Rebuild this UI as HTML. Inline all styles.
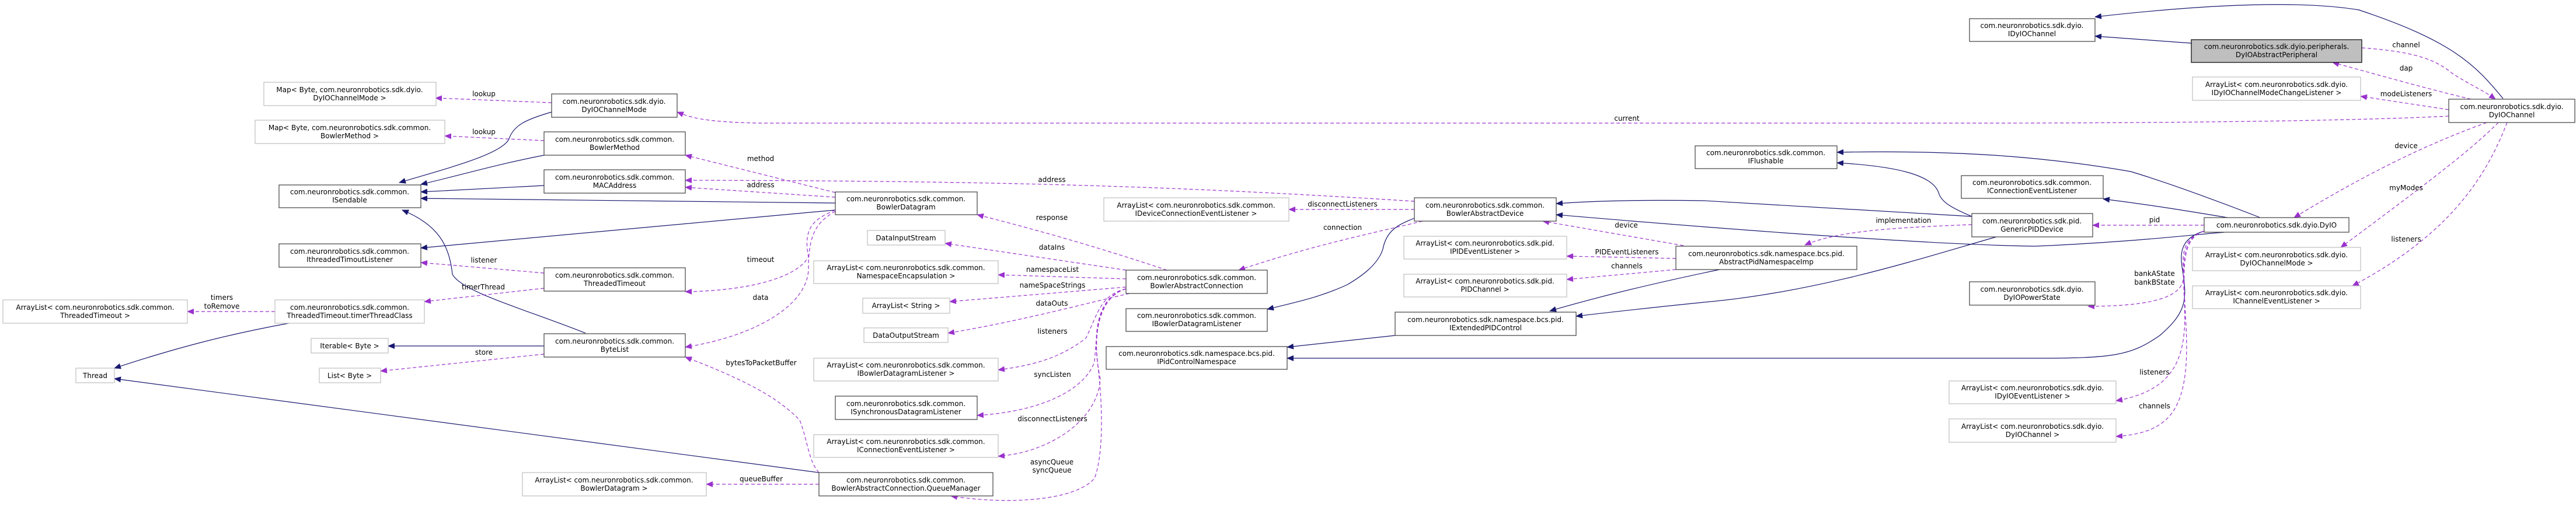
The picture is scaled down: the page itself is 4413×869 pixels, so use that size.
<!DOCTYPE html>
<html><head><meta charset="utf-8"><style>
html,body{margin:0;padding:0;background:#fff;}
svg{display:block;}
text{font-family:"DejaVu Sans","Liberation Sans",sans-serif;font-size:12px;fill:#000;text-anchor:middle;}
.lb{fill:#000;}
.s{fill:none;stroke:#191970;stroke-width:1.2;}
.d{fill:none;stroke:#9a32cd;stroke-width:1.2;stroke-dasharray:6,4;}
.bk{fill:#fff;stroke:#404040;stroke-width:1.2;}
.gr{fill:#fff;stroke:#bfbfbf;stroke-width:1.2;}
</style></head><body>
<svg width="4413" height="869" viewBox="0 0 4413 869" xmlns="http://www.w3.org/2000/svg">
<defs>
<marker id="a" markerWidth="12" markerHeight="10" refX="11" refY="5" orient="auto" markerUnits="userSpaceOnUse"><path d="M0,0 L12,5 L0,10 z" fill="#191970"/></marker>
<marker id="p" markerWidth="12" markerHeight="10" refX="11" refY="5" orient="auto" markerUnits="userSpaceOnUse"><path d="M0,0 L12,5 L0,10 z" fill="#9a32cd"/></marker>
</defs>

<!-- solid edges -->
<g class="s" marker-end="url(#a)">
<path d="M945,192 C900,205 880,215 872,238 C860,265 760,290 684,313"/>
<path d="M932,266 C850,282 790,300 721,316"/>
<path d="M932,318 L721,329"/>
<path d="M1431,348 L721,340"/>
<path d="M1003,571 C900,530 790,500 775,470 C770,420 750,385 689,360"/>
<path d="M1431,360 L721,425"/>
<path d="M495,554 C380,575 290,600 196,631"/>
<path d="M1403,810 L196,649"/>
<path d="M932,593 L665,593"/>
<path d="M2423,374 C2395,385 2375,395 2369,427 C2360,455 2330,475 2308,488 C2260,510 2220,518 2171,530"/>
<path d="M2390,575 L2205,595"/>
<path d="M3776,396 C3730,410 3735,440 3740,470 C3748,520 3740,540 3700,575 C3650,610 3620,614 3486,614 L2205,614"/>
<path d="M2946,462 C2850,482 2750,505 2655,533"/>
<path d="M3420,406 C3300,440 3120,500 2920,518 C2820,528 2760,535 2700,542"/>
<path d="M3378,371 C3340,355 3325,345 3321,330 C3310,300 3250,285 3147,279"/>
<path d="M3378,371 L2920,344 C2800,342 2720,345 2666,349"/>
<path d="M3811,398 C3750,403 3650,415 3486,422 C3350,420 3100,405 2666,368"/>
<path d="M3872,373 C3800,345 3720,315 3650,294 C3500,268 3350,257 3147,261"/>
<path d="M3816,373 C3750,362 3690,352 3603,341"/>
<path d="M4288,169 C4240,110 4200,70 4041,17 C3950,2 3800,5 3589,29"/>
<path d="M3754,74 L3589,62"/>
</g>

<!-- dashed edges -->
<g class="d" marker-end="url(#p)">
<path d="M945,176 L746,168"/>
<path d="M932,241 L762,233"/>
<path d="M4195,199 C4000,209 3600,211 3400,211 L1300,211 C1200,209 1180,200 1160,192"/>
<path d="M1431,330 L1174,266"/>
<path d="M2423,345 C2000,318 1700,310 1174,309"/>
<path d="M1431,338 L1174,321"/>
<path d="M1431,360 C1395,375 1375,390 1385,440 C1370,470 1300,498 1174,500"/>
<path d="M1431,362 C1400,380 1385,400 1385,460 C1385,520 1300,575 1174,595"/>
<path d="M932,468 L721,450"/>
<path d="M932,494 L727,517"/>
<path d="M471,534 L321,534"/>
<path d="M932,607 L652,636"/>
<path d="M1403,810 C1385,790 1385,760 1370,720 C1340,690 1300,660 1174,612"/>
<path d="M1403,830 L1210,830"/>
<path d="M1999,463 C1900,430 1800,400 1674,368"/>
<path d="M1929,463 L1619,417"/>
<path d="M1929,478 L1710,471"/>
<path d="M1929,492 L1627,517"/>
<path d="M1935,503 C1860,520 1750,550 1624,571"/>
<path d="M1929,495 C1885,505 1880,540 1860,580 C1820,610 1780,625 1710,634"/>
<path d="M1929,495 C1880,510 1880,560 1875,620 C1860,665 1790,705 1674,712"/>
<path d="M1929,495 C1880,510 1870,580 1885,650 C1880,720 1800,775 1710,782"/>
<path d="M1929,495 C1875,510 1875,580 1880,620 C1890,700 1890,780 1875,820 C1840,860 1720,865 1629,850"/>
<path d="M2437,379 C2350,400 2250,420 2122,463"/>
<path d="M2423,359 L2208,359"/>
<path d="M2884,421 L2643,379"/>
<path d="M2871,443 L2684,439"/>
<path d="M2871,462 L2684,479"/>
<path d="M3378,385 C3250,390 3150,395 3092,420"/>
<path d="M3776,386 L3585,386"/>
<path d="M3776,396 C3735,410 3740,440 3740,470 C3745,505 3700,525 3577,525"/>
<path d="M3776,396 C3735,410 3740,450 3742,520 C3748,620 3720,670 3625,687"/>
<path d="M3776,396 C3735,410 3740,460 3745,560 C3752,700 3720,742 3625,748"/>
<path d="M4233,170 C4150,150 4080,130 3996,107"/>
<path d="M4046,82 C4130,88 4170,100 4200,125 C4230,145 4255,155 4275,170"/>
<path d="M4195,188 L4044,165"/>
<path d="M4260,210 C4150,250 4050,300 3930,373"/>
<path d="M4280,210 C4230,260 4150,320 4010,424"/>
<path d="M4295,210 C4260,300 4200,400 4030,490"/>
</g>

<!-- edge labels -->
<g class="lb">
<text x="380" y="514">timers</text><text x="380" y="529">toRemove</text>
<text x="829" y="165">lookup</text>
<text x="829" y="230">lookup</text>
<text x="1303" y="276">method</text>
<text x="1303" y="321">address</text>
<text x="829" y="450">listener</text>
<text x="828" y="496">timerThread</text>
<text x="1303" y="449">timeout</text>
<text x="1303" y="514">data</text>
<text x="829" y="608">store</text>
<text x="1304" y="626">bytesToPacketBuffer</text>
<text x="1304" y="825">queueBuffer</text>
<text x="1802" y="312">address</text>
<text x="1802" y="377">response</text>
<text x="1802" y="428">dataIns</text>
<text x="1803" y="466">namespaceList</text>
<text x="1803" y="493">nameSpaceStrings</text>
<text x="1802" y="524">dataOuts</text>
<text x="1803" y="572">listeners</text>
<text x="1803" y="646">syncListen</text>
<text x="1803" y="722">disconnectListeners</text>
<text x="1802" y="796">asyncQueue</text><text x="1802" y="810">syncQueue</text>
<text x="2787" y="207">current</text>
<text x="2300" y="354">disconnectListeners</text>
<text x="2300" y="394">connection</text>
<text x="2786" y="390">device</text>
<text x="2787" y="436">PIDEventListeners</text>
<text x="2787" y="460">channels</text>
<text x="3261" y="382">implementation</text>
<text x="4122" y="81">channel</text>
<text x="4122" y="121">dap</text>
<text x="4122" y="165">modeListeners</text>
<text x="4122" y="254">device</text>
<text x="4122" y="326">myModes</text>
<text x="4122" y="414">listeners</text>
<text x="3691" y="381">pid</text>
<text x="3691" y="473">bankAState</text><text x="3691" y="488">bankBState</text>
<text x="3691" y="642">listeners</text>
<text x="3691" y="700">channels</text>
</g>

<!-- nodes -->
<g>
<rect class="gr" x="452" y="141" width="295" height="40"/><text x="599" y="158">Map&lt; Byte, com.neuronrobotics.sdk.dyio.</text><text x="599" y="172">DyIOChannelMode &gt;</text>
<rect class="gr" x="437" y="206" width="325" height="40"/><text x="599" y="223">Map&lt; Byte, com.neuronrobotics.sdk.common.</text><text x="599" y="237">BowlerMethod &gt;</text>
<rect class="bk" x="478" y="317" width="243" height="39"/><text x="599" y="333">com.neuronrobotics.sdk.common.</text><text x="599" y="347">ISendable</text>
<rect class="bk" x="478" y="418" width="243" height="40"/><text x="599" y="435">com.neuronrobotics.sdk.common.</text><text x="599" y="449">IthreadedTimoutListener</text>
<rect class="gr" x="5" y="514" width="316" height="40"/><text x="163" y="531">ArrayList&lt; com.neuronrobotics.sdk.common.</text><text x="163" y="545">ThreadedTimeout &gt;</text>
<rect class="gr" x="471" y="514" width="256" height="40"/><text x="599" y="531">com.neuronrobotics.sdk.common.</text><text x="599" y="545">ThreadedTimeout.timerThreadClass</text>
<rect class="gr" x="533" y="580" width="132" height="25"/><text x="599" y="597">Iterable&lt; Byte &gt;</text>
<rect class="gr" x="547" y="631" width="105" height="25"/><text x="599" y="648">List&lt; Byte &gt;</text>
<rect class="gr" x="130" y="631" width="66" height="25"/><text x="163" y="648">Thread</text>
<rect class="bk" x="945" y="161" width="215" height="40"/><text x="1052" y="178">com.neuronrobotics.sdk.dyio.</text><text x="1052" y="192">DyIOChannelMode</text>
<rect class="bk" x="932" y="226" width="242" height="40"/><text x="1053" y="243">com.neuronrobotics.sdk.common.</text><text x="1053" y="257">BowlerMethod</text>
<rect class="bk" x="932" y="291" width="242" height="40"/><text x="1053" y="308">com.neuronrobotics.sdk.common.</text><text x="1053" y="322">MACAddress</text>
<rect class="bk" x="1431" y="329" width="243" height="39"/><text x="1552" y="345">com.neuronrobotics.sdk.common.</text><text x="1552" y="359">BowlerDatagram</text>
<rect class="bk" x="932" y="459" width="242" height="40"/><text x="1053" y="476">com.neuronrobotics.sdk.common.</text><text x="1053" y="490">ThreadedTimeout</text>
<rect class="bk" x="932" y="572" width="242" height="40"/><text x="1053" y="589">com.neuronrobotics.sdk.common.</text><text x="1053" y="603">ByteList</text>
<rect class="gr" x="895" y="810" width="315" height="40"/><text x="1052" y="827">ArrayList&lt; com.neuronrobotics.sdk.common.</text><text x="1052" y="841">BowlerDatagram &gt;</text>
<rect class="bk" x="1403" y="810" width="298" height="40"/><text x="1552" y="827">com.neuronrobotics.sdk.common.</text><text x="1552" y="841">BowlerAbstractConnection.QueueManager</text>
<rect class="gr" x="1394" y="447" width="316" height="39"/><text x="1552" y="463">ArrayList&lt; com.neuronrobotics.sdk.common.</text><text x="1552" y="477">NamespaceEncapsulation &gt;</text>
<rect class="gr" x="1394" y="614" width="316" height="39"/><text x="1552" y="630">ArrayList&lt; com.neuronrobotics.sdk.common.</text><text x="1552" y="644">IBowlerDatagramListener &gt;</text>
<rect class="gr" x="1394" y="745" width="316" height="39"/><text x="1552" y="761">ArrayList&lt; com.neuronrobotics.sdk.common.</text><text x="1552" y="775">IConnectionEventListener &gt;</text>
<rect class="bk" x="1431" y="679" width="243" height="40"/><text x="1552" y="696">com.neuronrobotics.sdk.common.</text><text x="1552" y="710">ISynchronousDatagramListener</text>
<rect class="gr" x="1486" y="395" width="133" height="25"/><text x="1552" y="412">DataInputStream</text>
<rect class="gr" x="1478" y="511" width="149" height="26"/><text x="1552" y="528">ArrayList&lt; String &gt;</text>
<rect class="gr" x="1480" y="562" width="144" height="25"/><text x="1552" y="579">DataOutputStream</text>
<rect class="bk" x="1929" y="463" width="242" height="40"/><text x="2050" y="480">com.neuronrobotics.sdk.common.</text><text x="2050" y="494">BowlerAbstractConnection</text>
<rect class="bk" x="1929" y="529" width="242" height="39"/><text x="2050" y="545">com.neuronrobotics.sdk.common.</text><text x="2050" y="559">IBowlerDatagramListener</text>
<rect class="bk" x="1895" y="594" width="310" height="39"/><text x="2050" y="610">com.neuronrobotics.sdk.namespace.bcs.pid.</text><text x="2050" y="624">IPidControlNamespace</text>
<rect class="gr" x="1891" y="339" width="317" height="40"/><text x="2049" y="356">ArrayList&lt; com.neuronrobotics.sdk.common.</text><text x="2049" y="370">IDeviceConnectionEventListener &gt;</text>
<rect class="bk" x="2423" y="339" width="243" height="40"/><text x="2544" y="356">com.neuronrobotics.sdk.common.</text><text x="2544" y="370">BowlerAbstractDevice</text>
<rect class="gr" x="2405" y="405" width="279" height="39"/><text x="2544" y="421">ArrayList&lt; com.neuronrobotics.sdk.pid.</text><text x="2544" y="435">IPIDEventListener &gt;</text>
<rect class="gr" x="2405" y="470" width="279" height="39"/><text x="2544" y="486">ArrayList&lt; com.neuronrobotics.sdk.pid.</text><text x="2544" y="500">PIDChannel &gt;</text>
<rect class="bk" x="2390" y="535" width="310" height="40"/><text x="2545" y="552">com.neuronrobotics.sdk.namespace.bcs.pid.</text><text x="2545" y="566">IExtendedPIDControl</text>
<rect class="bk" x="2904" y="250" width="243" height="39"/><text x="3025" y="266">com.neuronrobotics.sdk.common.</text><text x="3025" y="280">IFlushable</text>
<rect class="bk" x="2871" y="422" width="310" height="40"/><text x="3026" y="439">com.neuronrobotics.sdk.namespace.bcs.pid.</text><text x="3026" y="453">AbstractPidNamespaceImp</text>
<rect class="bk" x="3374" y="32" width="215" height="39"/><text x="3481" y="48">com.neuronrobotics.sdk.dyio.</text><text x="3481" y="62">IDyIOChannel</text>
<rect class="bk" x="3360" y="301" width="243" height="39"/><text x="3481" y="317">com.neuronrobotics.sdk.common.</text><text x="3481" y="331">IConnectionEventListener</text>
<rect class="bk" x="3378" y="366" width="207" height="40"/><text x="3481" y="383">com.neuronrobotics.sdk.pid.</text><text x="3481" y="397">GenericPIDDevice</text>
<rect class="bk" x="3374" y="483" width="215" height="40"/><text x="3481" y="500">com.neuronrobotics.sdk.dyio.</text><text x="3481" y="514">DyIOPowerState</text>
<rect class="gr" x="3339" y="653" width="286" height="39"/><text x="3482" y="669">ArrayList&lt; com.neuronrobotics.sdk.dyio.</text><text x="3482" y="683">IDyIOEventListener &gt;</text>
<rect class="gr" x="3339" y="718" width="286" height="40"/><text x="3482" y="735">ArrayList&lt; com.neuronrobotics.sdk.dyio.</text><text x="3482" y="749">DyIOChannel &gt;</text>
<rect x="3754" y="68" width="292" height="39" fill="#bfbfbf" stroke="#000" stroke-width="1.2"/><text x="3900" y="84">com.neuronrobotics.sdk.dyio.peripherals.</text><text x="3900" y="98">DyIOAbstractPeripheral</text>
<rect class="gr" x="3756" y="132" width="288" height="40"/><text x="3900" y="149">ArrayList&lt; com.neuronrobotics.sdk.dyio.</text><text x="3900" y="163">IDyIOChannelModeChangeListener &gt;</text>
<rect class="bk" x="4195" y="170" width="216" height="40"/><text x="4303" y="187">com.neuronrobotics.sdk.dyio.</text><text x="4303" y="201">DyIOChannel</text>
<rect class="bk" x="3776" y="373" width="248" height="25"/><text x="3900" y="390">com.neuronrobotics.sdk.dyio.DyIO</text>
<rect class="gr" x="3756" y="424" width="288" height="40"/><text x="3900" y="441">ArrayList&lt; com.neuronrobotics.sdk.dyio.</text><text x="3900" y="455">DyIOChannelMode &gt;</text>
<rect class="gr" x="3756" y="490" width="288" height="39"/><text x="3900" y="506">ArrayList&lt; com.neuronrobotics.sdk.dyio.</text><text x="3900" y="520">IChannelEventListener &gt;</text>
</g>
</svg>
</body></html>
